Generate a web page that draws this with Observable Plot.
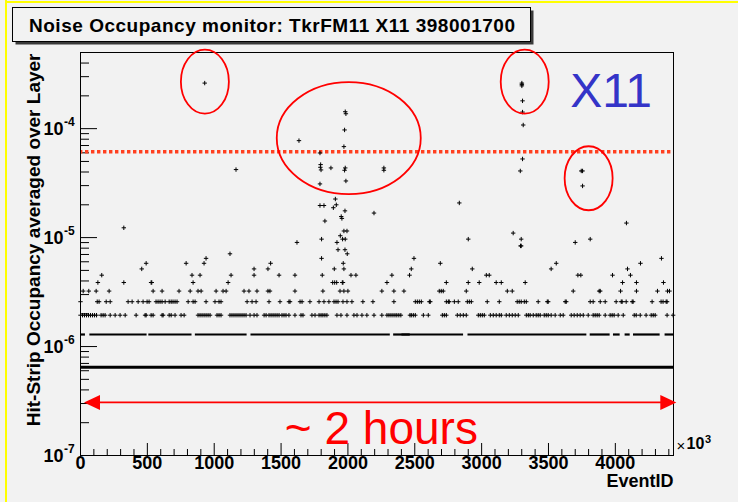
<!DOCTYPE html>
<html><head><meta charset="utf-8">
<script src="https://cdn.jsdelivr.net/npm/d3@7"></script>
<script src="https://cdn.jsdelivr.net/npm/@observablehq/plot@0.6"></script>
<style>
html,body{margin:0;padding:0;background:#f2f2f2;}
#chart{position:relative;width:738px;height:502px;overflow:hidden;}
svg text{font-family:"Liberation Sans",Arial,Helvetica,sans-serif;}
</style></head><body><div id="chart"></div>
<script>
// ---------- texts ----------
const titleText = "Noise Occupancy monitor: TkrFM11 X11 398001700";
const xLabel = "EventID";
const yLabel = "Hit-Strip Occupancy averaged over Layer";
const layerTag = "X11";
const durationText = "~ 2 hours";

// ---------- axes ----------
const xMajorTicks = [0, 500, 1000, 1500, 2000, 2500, 3000, 3500, 4000];
const xTickLabels = ["0", "500", "1000", "1500", "2000", "2500", "3000", "3500", "4000"];
const yDecades = [-7, -6, -5, -4];
const yExpLabels = ["-7", "-6", "-5", "-4"];

// ---------- data (EventID in 10^3) ----------
// quantised occupancy levels read from the rows of points
const levelOcc = [6.45e-7, 1.29e-6, 1.94e-6, 2.58e-6, 3.23e-6, 3.87e-6, 4.52e-6, 5.16e-6,
                  5.81e-6, 6.45e-6, 7.10e-6, 7.74e-6, 8.39e-6, 9.03e-6, 9.68e-6];
// near-continuous rows (runs of events)
const level1Runs = [[0, 4435]];
const level2Runs = [[0, 37], [70, 498], [511, 834], [859, 1246], [1275, 2317], [2342, 2466],
                    [2404, 2865], [2898, 3787], [3812, 3961], [3986, 4036], [4073, 4111],
                    [4136, 4335], [4372, 4435]];
const level3Events = [0, 15, 30, 45, 60, 75, 90, 105, 120, 154, 169, 184, 222, 259, 296, 334, 416, 483, 491,
  528, 543, 610, 618, 663, 678, 707, 752, 775, 879, 894, 909, 924, 939, 954, 969, 1021, 1036, 1051,
  1118, 1133, 1148, 1163, 1178, 1193, 1208, 1223, 1238, 1268, 1298, 1320, 1373, 1388, 1410, 1425,
  1440, 1455, 1470, 1485, 1507, 1522, 1537, 1559, 1604, 1649, 1664, 1731, 1754, 1784, 1799, 1813,
  1828, 1843, 1918, 1948, 1993, 2045, 2068, 2105, 2142, 2195, 2254, 2292, 2307, 2322, 2337, 2352,
  2366, 2381, 2396, 2464, 2474, 2489, 2504, 2564, 2601, 2706, 2721, 2736, 2818, 2840, 2863, 2885,
  2975, 2990, 3005, 3020, 3065, 3087, 3109, 3132, 3147, 3184, 3207, 3229, 3251, 3274, 3334, 3349,
  3363, 3386, 3408, 3423, 3438, 3468, 3483, 3498, 3520, 3550, 3588, 3610, 3670, 3692, 3715, 3737,
  3760, 3797, 3834, 3849, 3864, 3879, 3924, 3961, 3976, 3991, 4021, 4059, 4141, 4156, 4186, 4230,
  4268, 4283, 4298, 4387, 4432];
const level4Events = [0, 125, 139, 192, 222, 356, 386, 431, 468, 498, 513, 565, 580, 595, 610, 633, 663,
  678, 692, 707, 722, 805, 842, 857, 939, 1006, 1036, 1051, 1246, 1283, 1313, 1410, 1492, 1559, 1567,
  1642, 1657, 1716, 1784, 1821, 1858, 1896, 1911, 1926, 1963, 1993, 2030, 2112, 2187, 2344, 2504,
  2519, 2534, 2549, 2609, 2616, 2736, 2751, 2758, 2796, 2825, 2893, 2908, 2923, 3042, 3132, 3266,
  3281, 3296, 3319, 3334, 3423, 3491, 3498, 3625, 3633, 3812, 3834, 3887, 3924, 4006, 4044, 4051,
  4081, 4126, 4133, 4275, 4342, 4357, 4380, 4387];
const level5Events = [20, 62, 117, 214, 543, 610, 737, 820, 879, 902, 1014, 1066, 1089, 1223, 1260, 1320,
  1402, 1417, 1604, 1813, 1941, 1970, 2000, 2254, 2344, 2419, 2683, 2698, 2713, 2885, 3192, 3229,
  3685, 3879, 3887, 4039, 4158, 4315, 4390, 4405];
const level6Events = [130, 324, 528, 533, 842, 1104, 1886, 1901, 1916, 1958, 1963, 2292, 2736, 2900, 2982,
  3109, 3147, 3326, 4054, 4158, 4360];
const level7Events = [159, 834, 894, 1126, 1298, 1485, 1604, 1808, 2023, 2060, 2329, 2461, 3035, 3057,
  3720, 3742, 3979, 4113];
const level8Events = [458, 1298, 1402, 1898, 1970, 2474, 2930, 3520, 4091];
const level9Events = [491, 790, 924, 1422, 1965, 2691, 3558, 4188];
const level10Events = [939, 1803, 2494, 4345];
const level11Events = [1118, 1995];
const level12Events = [1926, 1978];
const level13Events = [3291, 3296];
const level14Events = [1619, 1918, 3700];
const level15Events = [1803, 1960, 1980, 2900, 3296, 3812];
// isolated high-occupancy events
const spikeEvents = [929, 1634, 1980, 1985, 1975, 1970, 1791, 1796, 1794, 1799, 1873, 1980, 1975, 1985,
  1791, 1163, 2269, 2269, 1791, 1821, 1906, 1913, 1891, 1828, 1950, 1955, 1978, 2195, 324, 1970,
  1993, 1943, 3301, 3301, 3301, 3306, 3306, 3311, 3306, 3289, 3745, 3755, 3755, 2833, 4083, 3236];
const spikeOcc = [2.62e-4, 7.76e-5, 1.43e-4, 1.37e-4, 9.73e-5, 6.84e-5, 5.98e-5, 4.68e-5, 4.42e-5, 4.18e-5,
  4.36e-5, 4.36e-5, 4.15e-5, 3.31e-5, 3.11e-5, 4.21e-5, 4.36e-5, 4.15e-5, 1.97e-5, 1.97e-5, 2.26e-5,
  2.0e-5, 1.88e-5, 1.42e-5, 1.56e-5, 1.5e-5, 1.76e-5, 1.68e-5, 1.23e-5, 1.15e-5, 1.15e-5, 1.04e-5,
  2.62e-4, 2.55e-4, 2.47e-4, 1.8e-4, 1.42e-4, 1.08e-4, 5.27e-5, 4.09e-5, 4.09e-5, 4.09e-5, 2.98e-5,
  2.08e-5, 1.36e-5, 1.1e-5];
const thresholdOcc = 6.15e-5;

// ---------- annotations (data coordinates) ----------
const circleX = [934, 2010, 3326, 3804];
const circleY = [2.67e-4, 8.1e-5, 2.67e-4, 3.47e-5];
const circleRx = [24, 72, 24, 24];
const circleRy = [32, 56, 32, 32];
const arrowX = [30, 4460];
const arrowY = 3.04e-7;
const tagPos = [3662, 2.2e-4];
const durationPos = [2250, 1.73e-7];

// ---------- build tables ----------
const levelLists = [null, null, level3Events, level4Events, level5Events, level6Events, level7Events,
  level8Events, level9Events, level10Events, level11Events, level12Events, level13Events,
  level14Events, level15Events];
const points = [];
levelLists.forEach((xs, k) => { if (xs) xs.forEach(x => points.push({x, y: levelOcc[k]})); });
spikeEvents.forEach((x, i) => points.push({x, y: spikeOcc[i]}));

const xMinorTicks = d3.range(0, 4401, 100).filter(v => v % 500 !== 0);
const yMajorVals = yDecades.map(d => Math.pow(10, d));
const yMinorVals = [];
for (const d of [-7, -6, -5]) for (let m = 2; m <= 9; m++) yMinorVals.push(m * Math.pow(10, d));
for (const m of [2, 3, 4]) yMinorVals.push(m * 1e-4);

const cross = {
  draw(ctx, size) {
    const r = Math.sqrt(size / Math.PI);
    ctx.moveTo(-r, 0); ctx.lineTo(r, 0);
    ctx.moveTo(0, -r); ctx.lineTo(0, r);
  }
};

const W = 738, H = 502, ML = 80, MR = 65, MT = 52, MB = 47;
const PW = W - ML - MR, PH = H - MT - MB;
const font = "Liberation Sans, Arial, Helvetica, sans-serif";

const plot = Plot.plot({
  width: W, height: H,
  marginLeft: ML, marginRight: MR, marginTop: MT, marginBottom: MB,
  style: {background: "#f2f2f2", fontFamily: font, overflow: "visible"},
  x: {domain: [0, 4435], axis: null},
  y: {type: "log", domain: [1e-7, 5e-4], axis: null},
  marks: [
    // ticks (inward, ROOT style)
    Plot.ruleX(xMajorTicks, {x: d => d, insetTop: PH - 12, stroke: "black"}),
    Plot.ruleX(xMinorTicks, {x: d => d, insetTop: PH - 6, stroke: "black"}),
    Plot.ruleY(yMajorVals, {y: d => d, insetRight: PW - 17, stroke: "black"}),
    Plot.ruleY(yMinorVals, {y: d => d, insetRight: PW - 9, stroke: "black"}),
    // threshold
    Plot.ruleY([thresholdOcc], {y: d => d, stroke: "#ff4020", strokeWidth: 3.5, strokeDasharray: "3.4,2.6", strokeDashoffset: -5}),
    // dense rows
    Plot.ruleY(level1Runs, {y: () => levelOcc[0], x1: d => d[0], x2: d => d[1], stroke: "black", strokeWidth: 3}),
    Plot.ruleY(level2Runs, {y: () => levelOcc[1], x1: d => d[0], x2: d => d[1], stroke: "black", strokeWidth: 2.2}),
    // points
    Plot.dot(points, {x: "x", y: "y", symbol: cross, r: 2.2, stroke: "black", strokeWidth: 1, fill: "none"}),
    // x tick labels
    Plot.text(xMajorTicks, {x: d => d, text: (d, i) => xTickLabels[i], frameAnchor: "bottom", dy: 13, fontSize: 18, fontWeight: "bold", fill: "black"}),
    // y tick labels 10^n
    Plot.text(yMajorVals, {y: d => d, text: () => "10", frameAnchor: "left", textAnchor: "end", dx: -17, dy: 1, fontSize: 18, fontWeight: "bold", fill: "black"}),
    Plot.text(yMajorVals, {y: d => d, text: (d, i) => yExpLabels[i], frameAnchor: "left", textAnchor: "start", dx: -16.5, dy: -6, fontSize: 12, fontWeight: "bold", fill: "black"}),
    // axis titles
    Plot.text([yLabel], {text: d => d, frameAnchor: "top-left", rotate: -90, textAnchor: "end", dx: -54, dy: 1, fontSize: 19, fontWeight: "bold", fill: "black"}),
    Plot.text([xLabel], {text: d => d, frameAnchor: "bottom-right", textAnchor: "end", dy: 31, fontSize: 18, fontWeight: "bold", fill: "black"}),
    Plot.text(["\u00d7"], {text: d => d, frameAnchor: "bottom-right", textAnchor: "start", dx: 3, dy: -5, fontSize: 15, fill: "black"}),
    Plot.text(["10"], {text: d => d, frameAnchor: "bottom-right", textAnchor: "start", dx: 13, dy: -6.5, fontSize: 16, fontWeight: "bold", fill: "black"}),
    Plot.text(["3"], {text: d => d, frameAnchor: "bottom-right", textAnchor: "start", dx: 31.5, dy: -13, fontSize: 11, fontWeight: "bold", fill: "black"}),
    // annotations
    Plot.text([layerTag], {x: () => tagPos[0], y: () => tagPos[1], text: d => d, textAnchor: "start", fontSize: 48, fill: "#3434c8"}),
    Plot.text([durationText], {x: () => durationPos[0], y: () => durationPos[1], text: d => d, textAnchor: "middle", fontSize: 46, fill: "#ff0000"}),
    Plot.frame({stroke: "black", strokeWidth: 1})
  ]
});

const xs = plot.scale("x"), ys = plot.scale("y");
const svg = d3.select(plot);

// red circles
const ell = svg.append("g").attr("fill", "none").attr("stroke", "#ff0000").attr("stroke-width", 1.8);
circleX.forEach((cx, i) => {
  ell.append("ellipse").attr("cx", xs.apply(cx)).attr("cy", ys.apply(circleY[i]))
    .attr("rx", circleRx[i]).attr("ry", circleRy[i]);
});

// double-headed arrow
const ax1 = xs.apply(arrowX[0]), ax2 = xs.apply(arrowX[1]), ay = ys.apply(arrowY);
const ag = svg.append("g").attr("fill", "#ff0000").attr("stroke", "none");
ag.append("line").attr("x1", ax1 + 10).attr("x2", ax2 - 10).attr("y1", ay).attr("y2", ay)
  .attr("stroke", "#ff0000").attr("stroke-width", 1.8);
ag.append("path").attr("d", `M${ax1},${ay}L${ax1 + 16},${ay - 7.5}L${ax1 + 16},${ay + 7.5}Z`);
ag.append("path").attr("d", `M${ax2},${ay}L${ax2 - 16},${ay - 7.5}L${ax2 - 16},${ay + 7.5}Z`);

// title box
const tb = svg.append("g");
tb.append("rect").attr("x", 15.5).attr("y", 10.5).attr("width", 518).attr("height", 34).attr("fill", "#3a3a3a");
tb.append("rect").attr("x", 12.5).attr("y", 7.5).attr("width", 518).attr("height", 34).attr("fill", "#f2f2f2").attr("stroke", "black");
tb.append("text").attr("x", 29).attr("y", 31.5).attr("font-size", 19).attr("font-weight", "bold")
  .attr("text-anchor", "start").attr("textLength", 486).attr("lengthAdjust", "spacing")
  .attr("fill", "black").text(titleText);

// yellow canvas edges
svg.append("rect").attr("x", 5).attr("y", 0).attr("width", 2).attr("height", H).attr("fill", "#ffff00");
svg.append("rect").attr("x", 5).attr("y", 1).attr("width", W).attr("height", 2).attr("fill", "#ffff00");

document.getElementById("chart").appendChild(plot);
</script></body></html>
